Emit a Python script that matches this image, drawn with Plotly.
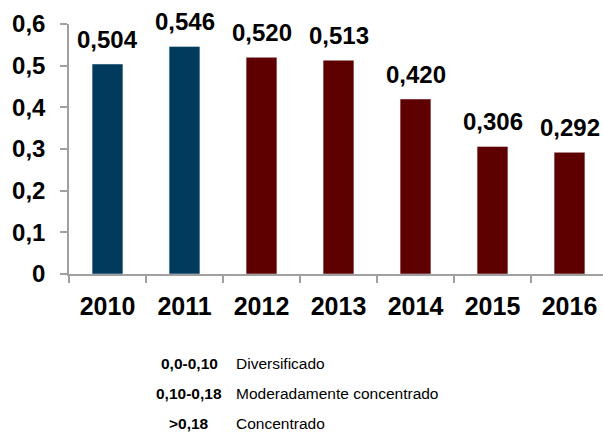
import plotly.graph_objects as go

years = ["2010", "2011", "2012", "2013", "2014", "2015", "2016"]
values = [0.504, 0.546, 0.520, 0.513, 0.420, 0.306, 0.292]
bar_colors = ["#003A5C", "#003A5C", "#5E0000", "#5E0000", "#5E0000", "#5E0000", "#5E0000"]
legend_ranges = ["0,0-0,10", "0,10-0,18", ">0,18"]
legend_labels = ["Diversificado", "Moderadamente concentrado", "Concentrado"]

BOLD = "Liberation Sans, Arial, sans-serif"
NARROW = "Liberation Sans Narrow, Arial Narrow, Liberation Sans, Arial, sans-serif"

fig = go.Figure(go.Bar(x=years, y=values, marker_color=bar_colors, width=0.4))

for i, v in enumerate(values):
    fig.add_annotation(x=i, y=v, text="<b>" + f"{v:.3f}".replace(".", ",") + "</b>", showarrow=False,
                       yanchor="middle", yshift=25,
                       font=dict(family=BOLD, size=24, color="black"))

W, L = 534, 69
for i, (r, lab) in enumerate(zip(legend_ranges, legend_labels)):
    fig.add_annotation(xref="paper", yref="paper", x=(189 - L) / W, y=0, yshift=-(363 - 274) - i * 30,
                       text=f"<b>{r}</b>", showarrow=False, xanchor="center", yanchor="middle",
                       font=dict(family=NARROW, size=15.5, color="black"))
    fig.add_annotation(xref="paper", yref="paper", x=(234 - L) / W, y=0, yshift=-(363 - 274) - i * 30,
                       text=lab, showarrow=False, xanchor="left", yanchor="middle",
                       font=dict(family=NARROW, size=15.5, color="black"))

fig.update_layout(
    width=603, height=439,
    margin=dict(l=69, r=0, t=24, b=165),
    paper_bgcolor="white", plot_bgcolor="white",
    separators=",.",
    showlegend=False,
)
fig.update_xaxes(type="category", range=[-0.5, 6.435], showline=True, linecolor="#A0A0A0", linewidth=1.5,
                 ticks="outside", tickson="boundaries", ticklen=7, tickcolor="#A0A0A0", tickwidth=1.5,
                 showgrid=False, ticklabelstandoff=9,
                 tickfont=dict(family=BOLD, size=25, color="black", weight="bold"))
fig.update_yaxes(range=[0, 0.6], dtick=0.1, showline=True, linecolor="#A0A0A0", linewidth=1.5,
                 ticks="outside", ticklen=7, tickcolor="#A0A0A0", tickwidth=1.5, showgrid=False, zeroline=False,
                 ticklabelstandoff=10,
                 tickfont=dict(family=BOLD, size=24, color="black", weight="bold"))

fig.write_html("out.html", config={"displayModeBar": False},
               post_script="document.body.style.margin='0';document.body.style.overflow='hidden';")
